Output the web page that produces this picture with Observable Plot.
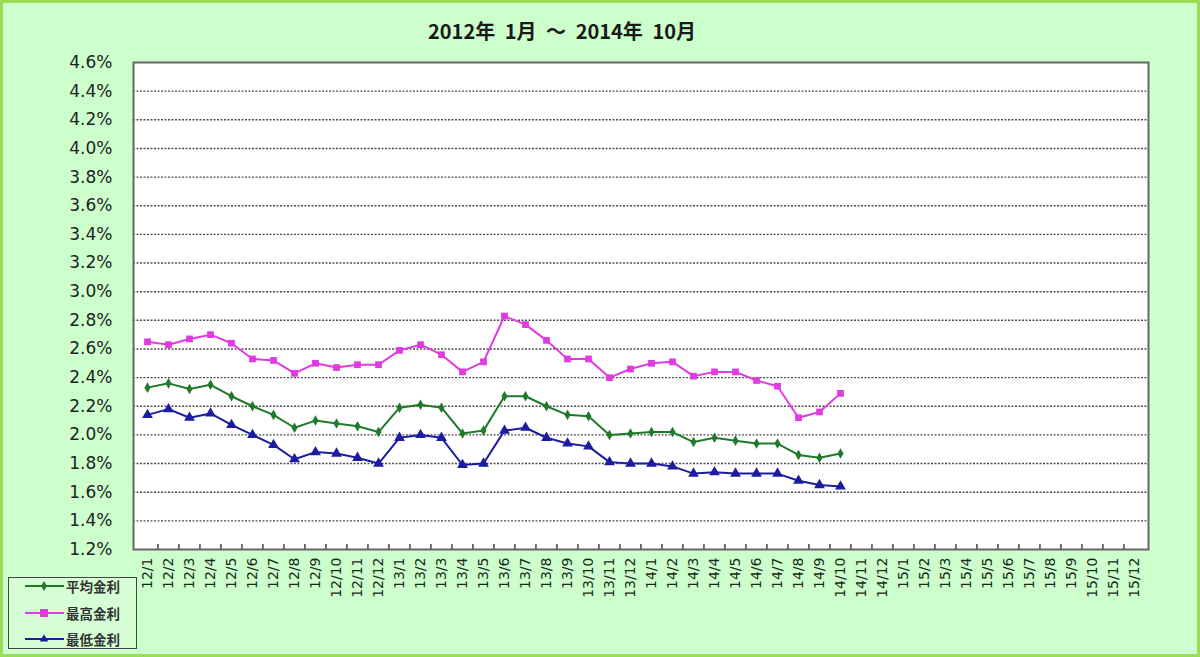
<!DOCTYPE html>
<html>
<head>
<meta charset="utf-8">
<script src="https://cdn.jsdelivr.net/npm/d3@7"></script>
<script src="https://cdn.jsdelivr.net/npm/@observablehq/plot@0.6"></script>
<style>
  html, body { margin: 0; padding: 0; }
  body { width: 1200px; height: 657px; overflow: hidden; }
  #wrap { position: relative; width: 1200px; height: 657px; background: #ccffcc; }
  #wrap svg.plot { position: absolute; left: 0; top: 0; }
  #border { position: absolute; left: 0; top: 0; width: 1200px; height: 657px; box-sizing: border-box; border: 3px solid #99dd55; pointer-events: none; }
  #title { position: absolute; left: 0; top: 16px; width: 1124px; text-align: center; font-family: "Noto Sans CJK JP", "DejaVu Sans", sans-serif; font-size: 20px; font-weight: bold; color: #1a1a1a; word-spacing: 5px; white-space: pre; }
  #legend { position: absolute; left: 8px; top: 577px; width: 129px; height: 72px; box-sizing: border-box; border: 1.5px solid #444; background: #d6ffd6; font-family: "Noto Sans CJK JP", sans-serif; font-size: 13.5px; font-weight: bold; color: #333; }
  .item { position: absolute; left: 15px; height: 16px; display: flex; align-items: center; }
  .item svg { margin-right: 1px; }
</style>
</head>
<body>
<div id="wrap">
  <div id="title"></div>
  <div id="legend"></div>
  <div id="border"></div>
</div>
<script>
const title = "2012年 1月 ～ 2014年 10月";

const months = [
  "12/1","12/2","12/3","12/4","12/5","12/6","12/7","12/8","12/9","12/10","12/11","12/12",
  "13/1","13/2","13/3","13/4","13/5","13/6","13/7","13/8","13/9","13/10","13/11","13/12",
  "14/1","14/2","14/3","14/4","14/5","14/6","14/7","14/8","14/9","14/10","14/11","14/12",
  "15/1","15/2","15/3","15/4","15/5","15/6","15/7","15/8","15/9","15/10","15/11","15/12"
];

const seriesNames = ["平均金利", "最高金利", "最低金利"];

const avgRate = [2.33, 2.36, 2.32, 2.35, 2.27, 2.20, 2.14, 2.05, 2.10, 2.08, 2.06, 2.02,
  2.19, 2.21, 2.19, 2.01, 2.03, 2.27, 2.27, 2.20, 2.14, 2.13, 2.00, 2.01,
  2.02, 2.02, 1.95, 1.98, 1.96, 1.94, 1.94, 1.86, 1.84, 1.87];

const maxRate = [2.65, 2.63, 2.67, 2.70, 2.64, 2.53, 2.52, 2.43, 2.50, 2.47, 2.49, 2.49,
  2.59, 2.63, 2.56, 2.44, 2.51, 2.83, 2.77, 2.66, 2.53, 2.53, 2.40, 2.46,
  2.50, 2.51, 2.41, 2.44, 2.44, 2.38, 2.34, 2.12, 2.16, 2.29];

const minRate = [2.14, 2.18, 2.12, 2.15, 2.07, 2.00, 1.93, 1.83, 1.88, 1.87, 1.84, 1.80,
  1.98, 2.00, 1.98, 1.79, 1.80, 2.03, 2.05, 1.98, 1.94, 1.92, 1.81, 1.80,
  1.80, 1.78, 1.73, 1.74, 1.73, 1.73, 1.73, 1.68, 1.65, 1.64];

const yTicks = [1.2, 1.4, 1.6, 1.8, 2.0, 2.2, 2.4, 2.6, 2.8, 3.0, 3.2, 3.4, 3.6, 3.8, 4.0, 4.2, 4.4, 4.6];

const colors = {"平均金利": "#1f7a2a", "最高金利": "#e03ae0", "最低金利": "#1c1ca0"};
const symbols = {"平均金利": "diamond", "最高金利": "square", "最低金利": "triangle"};
const radii = {"平均金利": 3.2, "最高金利": 3.8, "最低金利": 4.0};

const table = [];
[avgRate, maxRate, minRate].forEach((vals, k) => {
  vals.forEach((v, i) => table.push({series: seriesNames[k], month: months[i], value: v}));
});

const W = 1200, H = 657;
const mL = 133, mR = 52, mT = 62, mB = 108;
const step = (W - mL - mR) / months.length;

const marks = [
  Plot.frame({fill: "white"}),
  Plot.gridY(yTicks.slice(1, -1), {stroke: "#3a3a3a", strokeOpacity: 0.9, strokeWidth: 1.4, strokeDasharray: "2,1.5"}),
  Plot.axisY(yTicks, {tickFormat: d => d.toFixed(1) + "%", tickSize: 0, tickPadding: 21, fontSize: 17, fill: "#222"}),
  Plot.axisX({tickRotate: -90, tickSize: 0, tickPadding: 8, fontSize: 14, fill: "#1a2a1a"}),
  Plot.ruleX(months.slice(1), {x: d => d, dx: -step / 2, y1: 1.2, y2: 1.235, stroke: "#444", strokeWidth: 1.5}),
  Plot.frame({stroke: "#666", strokeWidth: 2})
];

seriesNames.forEach(s => {
  const rows = table.filter(d => d.series === s);
  marks.push(Plot.line(rows, {x: "month", y: "value", stroke: colors[s], strokeWidth: 2}));
  marks.push(Plot.dot(rows, {x: "month", y: "value", symbol: symbols[s], fill: colors[s], r: radii[s]}));
});

const chart = Plot.plot({
  width: W, height: H,
  marginLeft: mL, marginRight: mR, marginTop: mT, marginBottom: mB,
  style: {background: "transparent", fontFamily: "DejaVu Sans, sans-serif", fontSize: "14px", color: "#222"},
  x: {type: "point", domain: months, padding: 0.5, label: null},
  y: {domain: [1.2, 4.6], label: null},
  marks
});
chart.classList.add("plot");
document.getElementById("wrap").insertBefore(chart, document.getElementById("legend"));

document.getElementById("title").textContent = title;

const legend = document.getElementById("legend");
seriesNames.forEach((s, i) => {
  const item = document.createElement("div");
  item.className = "item";
  item.style.top = (0 + i * 26.5) + "px";
  const ns = "http://www.w3.org/2000/svg";
  const svg = document.createElementNS(ns, "svg");
  svg.setAttribute("width", 41); svg.setAttribute("height", 14);
  const line = document.createElementNS(ns, "line");
  line.setAttribute("x1", 1); line.setAttribute("x2", 40); line.setAttribute("y1", 7); line.setAttribute("y2", 7);
  line.setAttribute("stroke", colors[s]); line.setAttribute("stroke-width", 2);
  svg.appendChild(line);
  const sym = d3.symbol(s === "平均金利" ? d3.symbolDiamond : s === "最高金利" ? d3.symbolSquare : d3.symbolTriangle, s === "最高金利" ? 64 : 30)();
  const p = document.createElementNS(ns, "path");
  p.setAttribute("d", sym); p.setAttribute("transform", "translate(20,7)"); p.setAttribute("fill", colors[s]);
  svg.appendChild(p);
  item.appendChild(svg);
  const t = document.createElement("span");
  t.textContent = s;
  item.appendChild(t);
  legend.appendChild(item);
});
</script>
</body>
</html>
